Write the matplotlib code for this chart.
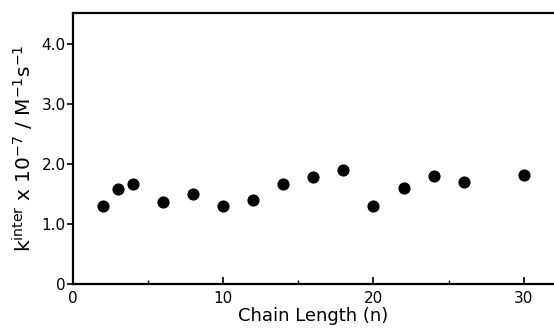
import matplotlib.pyplot as plt
from matplotlib.ticker import MultipleLocator

# chain length n and rate constant k_inter (x 10^7 M^-1 s^-1)
chain_length = [2, 3, 4, 6, 8, 10, 12, 14, 16, 18, 20, 22, 24, 26, 30]
k_inter = [1.30, 1.58, 1.67, 1.37, 1.50, 1.29, 1.39, 1.66, 1.78, 1.90,
           1.30, 1.60, 1.79, 1.70, 1.82]

fig = plt.figure(figsize=(5.54, 3.32), dpi=100)
ax = fig.add_axes([0.131, 0.145, 0.869, 0.817])

ax.scatter(chain_length, k_inter, s=60, color='black', zorder=3)

ax.set_xlim(0, 32)
ax.set_ylim(0, 4.52)
ax.set_xticks([0, 10, 20, 30])
ax.set_xticklabels(['0', '10', '20', '30'])
ax.xaxis.set_minor_locator(MultipleLocator(5))
ax.set_yticks([0, 1, 2, 3, 4])
ax.set_yticklabels(['0', '1.0', '2.0', '3.0', '4.0'])

ax.spines['right'].set_visible(False)
for s in ['left', 'bottom', 'top']:
    ax.spines[s].set_linewidth(1.6)

ax.tick_params(axis='x', direction='in', length=5, width=1.2, labelsize=11, pad=5)
ax.tick_params(axis='x', which='minor', direction='in', length=3, width=1.0)
ax.tick_params(axis='y', direction='out', length=4, width=1.2, labelsize=11, pad=1)

ax.set_xlabel('Chain Length (n)', fontsize=13, labelpad=1)
ax.set_ylabel(r'k$^{\mathregular{inter}}$ x 10$^{\mathregular{-7}}$ / M$^{\mathregular{-1}}$s$^{\mathregular{-1}}$',
              fontsize=14.5, labelpad=4)

fig.savefig('out.png', dpi=100)
